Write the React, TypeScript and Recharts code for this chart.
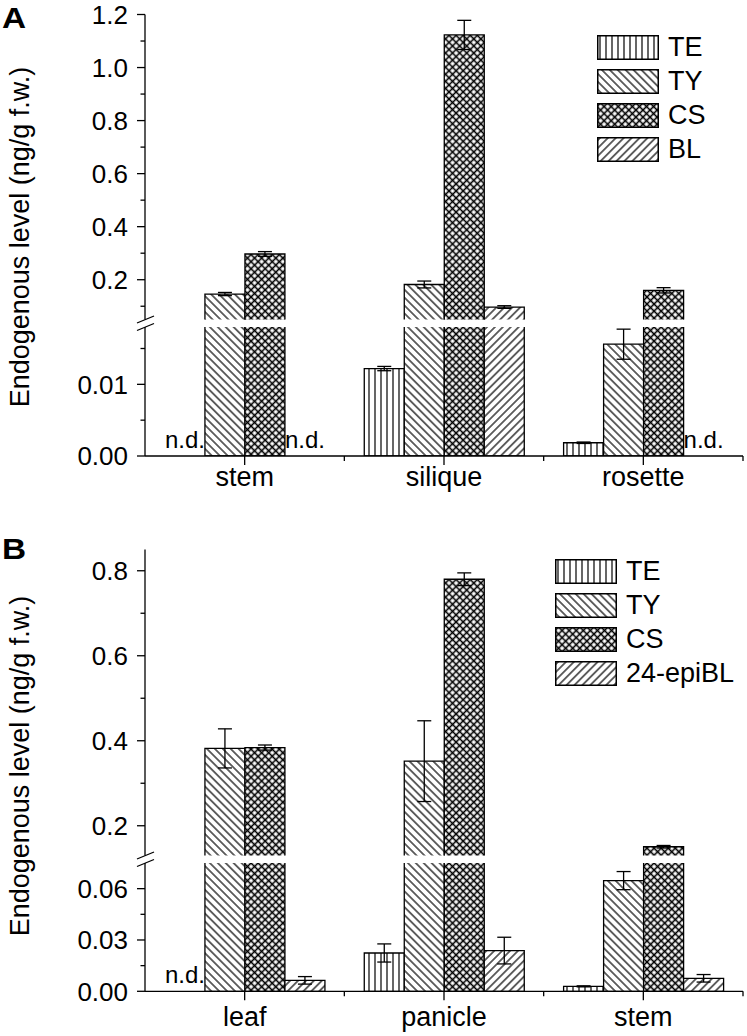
import React from 'react';
import { BarChart, Bar, XAxis, YAxis, ErrorBar, Legend, Rectangle } from 'recharts';

const FONT = "'Liberation Sans', Arial, Helvetica, sans-serif";

// ---- panel A (Arabidopsis) ----
const catsA = ['stem', 'silique', 'rosette'];
const namesA = ['TE', 'TY', 'CS', 'BL'];
const teA = [null, 0.0122, 0.00185];
const teErrA = [null, 0.0003, 0.0001];
const tyA = [0.146, 0.182, 0.0156];
const tyErrA = [0.006, 0.013, 0.0021];
const csA = [0.297, 1.123, 0.16];
const csErrA = [0.009, 0.055, 0.01];
const blA = [null, 0.097, null];
const blErrA = [null, 0.005, null];

// ---- panel B (rice) ----
const catsB = ['leaf', 'panicle', 'stem'];
const namesB = ['TE', 'TY', 'CS', '24-epiBL'];
const teB = [null, 0.0224, 0.0029];
const teErrB = [null, 0.0053, 0.0003];
const tyB = [0.382, 0.352, 0.0647];
const tyErrB = [0.046, 0.095, 0.0053];
const csB = [0.384, 0.78, 0.1506];
const csErrB = [0.006, 0.015, 0.003];
const eblB = [0.0064, 0.0238, 0.0076];
const eblErrB = [0.0022, 0.0078, 0.0022];

// ---- axis ticks (broken axes) ----
const aUpperMajor = [0.2, 0.4, 0.6, 0.8, 1.0, 1.2];
const aUpperMinor = [0.1, 0.3, 0.5, 0.7, 0.9, 1.1];
const aLowerMajor = [0, 0.01];
const aLowerMinor = [0.005, 0.015];
const bUpperMajor = [0.2, 0.4, 0.6, 0.8];
const bUpperMinor = [0.3, 0.5, 0.7];
const bLowerMajor = [0, 0.03, 0.06];
const bLowerMinor = [0.015, 0.045];

const FILLS = ['url(#pat-te)', 'url(#pat-ty)', 'url(#pat-cs)', 'url(#pat-bl)'];
const W = 747;
const PLOT_L = 145;
const PLOT_R = 743;
const BAND = (PLOT_R - PLOT_L) / 3;
const YLABEL = 'Endogenous level (ng/g f.w.)';

type Num = number | null;

function rowsFor(cats: string[], vals: Num[][], errs: Num[][], part: 'upper' | 'lower', lo: number, hi: number) {
  return cats.map((cat, i) => {
    const row: Record<string, any> = { cat };
    vals.forEach((series, k) => {
      const v = series[i];
      const e = errs[k][i];
      if (part === 'upper') {
        const show = v != null && v >= lo;
        row[`s${k}`] = show ? [0, v] : null;
        row[`e${k}`] = show ? e : null;
      } else {
        row[`s${k}`] = v ?? 0;
        row[`e${k}`] = v != null && v <= hi ? e : null;
        row[`nd${k}`] = v == null;
      }
    });
    return row;
  });
}

function YTick(props: any) {
  const { y, payload, major, decimals } = props;
  const v = payload.value;
  const isMajor = major.some((m: number) => Math.abs(m - v) < 1e-9);
  return (
    <g>
      <line x1={PLOT_L - (isMajor ? 8 : 4.5)} x2={PLOT_L} y1={y} y2={y} stroke="#000" strokeWidth={1.3} />
      {isMajor && (
        <text x={PLOT_L - 17} y={y} dy="0.36em" textAnchor="end" fontSize={26} fontFamily={FONT} fill="#000">
          {v.toFixed(decimals)}
        </text>
      )}
    </g>
  );
}

function XTick(props: any) {
  const { x, payload, axisY, labelGap } = props;
  return (
    <g>
      <line x1={x} x2={x} y1={axisY} y2={axisY + 9} stroke="#000" strokeWidth={1.3} />
      <line x1={x + BAND / 2} x2={x + BAND / 2} y1={axisY} y2={axisY + 5} stroke="#000" strokeWidth={1.3} />
      <text x={x} y={axisY + labelGap} textAnchor="middle" fontSize={27} fontFamily={FONT} fill="#000">
        {payload.value}
      </text>
    </g>
  );
}

const ndShape = (k: number) => (props: any) => {
  if (props.payload && props.payload[`nd${k}`]) {
    return (
      <text x={props.x + props.width / 2} y={props.y - 8} textAnchor="middle" fontSize={24} fontFamily={FONT} fill="#000">
        n.d.
      </text>
    );
  }
  return <Rectangle {...props} />;
};

function PatternLegend({ payload }: any) {
  return (
    <div style={{ fontFamily: FONT }}>
      {(payload || []).map((e: any, i: number) => (
        <div key={i} style={{ display: 'flex', alignItems: 'center', height: 34 }}>
          <svg width={62} height={25} style={{ display: 'block' }}>
            <rect x={0.75} y={0.75} width={60.5} height={23.5} fill={e.color || FILLS[i]} stroke="#000" strokeWidth={1.5} />
          </svg>
          <span style={{ marginLeft: 9, fontSize: 27, lineHeight: '27px', color: '#000' }}>{e.value}</span>
        </div>
      ))}
    </div>
  );
}

function Segment(p: {
  top: number; height: number; marginTop: number; xAxisH: number; labelGap?: number; rows: any[]; names: string[];
  domain: [number, number]; major: number[]; minor: number[]; decimals: number; lower: boolean;
  legend?: { left: number; top: number };
}) {
  const ticks = [...p.major, ...p.minor].sort((a, b) => a - b);
  const axisY = p.height - p.xAxisH;
  return (
    <div style={{ position: 'absolute', left: 0, top: p.top }}>
      <BarChart
        width={W}
        height={p.height}
        data={p.rows}
        margin={{ top: p.marginTop, right: W - PLOT_R, bottom: 0, left: 0 }}
        barCategoryGap="10%"
        barGap={0}
      >
        <XAxis
          dataKey="cat"
          hide={!p.lower}
          height={p.xAxisH}
          interval={0}
          tickLine={false}
          axisLine={{ stroke: '#000', strokeWidth: 1.3 }}
          tick={(tp: any) => <XTick {...tp} axisY={axisY} labelGap={p.labelGap ?? 30} />}
        />
        <YAxis
          type="number"
          width={PLOT_L}
          domain={p.domain}
          allowDataOverflow
          ticks={ticks}
          interval={0}
          tickLine={false}
          axisLine={{ stroke: '#000', strokeWidth: 1.3 }}
          tick={(tp: any) => <YTick {...tp} major={p.major} decimals={p.decimals} />}
        />
        {p.names.map((n, k) => (
          <Bar
            key={n}
            dataKey={`s${k}`}
            name={n}
            fill={FILLS[k]}
            stroke="#000"
            strokeWidth={1.3}
            isAnimationActive={false}
            shape={p.lower ? ndShape(k) : undefined}
          >
            <ErrorBar dataKey={`e${k}`} width={7} stroke="#000" strokeWidth={1.3} direction="y" />
          </Bar>
        ))}
        {p.legend && (
          <Legend
            layout="vertical"
            align="center"
            verticalAlign="middle"
            itemSorter="dataKey"
            content={<PatternLegend />}
            wrapperStyle={{ position: 'absolute', left: p.legend.left, top: p.legend.top, width: 'auto', height: 'auto' }}
          />
        )}
      </BarChart>
    </div>
  );
}

function BreakMarks({ yUp, yLow }: { yUp: number; yLow: number }) {
  return (
    <g stroke="#000" strokeWidth={1.3}>
      <line x1={PLOT_L - 8} y1={yUp + 3.5} x2={PLOT_L + 9} y2={yUp - 3.5} />
      <line x1={PLOT_L - 8} y1={yLow + 3.5} x2={PLOT_L + 9} y2={yLow - 3.5} />
    </g>
  );
}

export default function App() {
  const valsA = [teA, tyA, csA, blA];
  const errsA = [teErrA, tyErrA, csErrA, blErrA];
  const valsB = [teB, tyB, csB, eblB];
  const errsB = [teErrB, tyErrB, csErrB, eblErrB];

  const aUp: [number, number] = [0.05, 1.2];
  const aLo: [number, number] = [0, 0.018];
  const bUp: [number, number] = [0.13, 0.85];
  const bLo: [number, number] = [0, 0.075];

  return (
    <div style={{ position: 'absolute', left: 0, top: 0, width: W, height: 1036, background: '#fff', fontFamily: FONT }}>
      <svg width={0} height={0} style={{ position: 'absolute' }}>
        <defs>
          <pattern id="pat-te" patternUnits="userSpaceOnUse" width={6} height={6}>
            <rect width={6} height={6} fill="#fff" />
            <line x1={3} y1={0} x2={3} y2={6} stroke="#000" strokeWidth={1.2} />
          </pattern>
          <pattern id="pat-ty" patternUnits="userSpaceOnUse" width={5.6} height={5.6} patternTransform="rotate(-45)">
            <rect width={5.6} height={5.6} fill="#fff" />
            <line x1={2.8} y1={0} x2={2.8} y2={5.6} stroke="#000" strokeWidth={1.2} />
          </pattern>
          <pattern id="pat-cs" patternUnits="userSpaceOnUse" width={5} height={5} patternTransform="rotate(45)">
            <rect width={5} height={5} fill="#fff" />
            <line x1={2.5} y1={0} x2={2.5} y2={5} stroke="#000" strokeWidth={1.6} />
            <line x1={0} y1={2.5} x2={5} y2={2.5} stroke="#000" strokeWidth={1.6} />
          </pattern>
          <pattern id="pat-bl" patternUnits="userSpaceOnUse" width={5.6} height={5.6} patternTransform="rotate(45)">
            <rect width={5.6} height={5.6} fill="#fff" />
            <line x1={2.8} y1={0} x2={2.8} y2={5.6} stroke="#000" strokeWidth={1.2} />
          </pattern>
        </defs>
      </svg>

      {/* panel A */}
      <Segment
        top={0} height={319.5} marginTop={14.5} xAxisH={0}
        rows={rowsFor(catsA, valsA, errsA, 'upper', aUp[0], aUp[1])}
        names={namesA} domain={aUp} major={aUpperMajor} minor={aUpperMinor} decimals={1} lower={false}
        legend={{ left: 597, top: 30 }}
      />
      <Segment
        top={327} height={181} marginTop={0} xAxisH={52} labelGap={30}
        rows={rowsFor(catsA, valsA, errsA, 'lower', aLo[0], aLo[1])}
        names={namesA} domain={aLo} major={aLowerMajor} minor={aLowerMinor} decimals={2} lower
      />

      {/* panel B */}
      <Segment
        top={530} height={325.5} marginTop={19.5} xAxisH={0}
        rows={rowsFor(catsB, valsB, errsB, 'upper', bUp[0], bUp[1])}
        names={namesB} domain={bUp} major={bUpperMajor} minor={bUpperMinor} decimals={1} lower={false}
        legend={{ left: 555, top: 24 }}
      />
      <Segment
        top={863} height={173} marginTop={0} xAxisH={44.7} labelGap={35}
        rows={rowsFor(catsB, valsB, errsB, 'lower', bLo[0], bLo[1])}
        names={namesB} domain={bLo} major={bLowerMajor} minor={bLowerMinor} decimals={2} lower
      />

      <svg width={W} height={1036} style={{ position: 'absolute', left: 0, top: 0, pointerEvents: 'none' }}>
        <text transform="translate(2,28) scale(1.15,1)" fontSize={29} fontWeight="bold" fontFamily={FONT} fill="#000">A</text>
        <text transform="translate(2,559) scale(1.15,1)" fontSize={29} fontWeight="bold" fontFamily={FONT} fill="#000">B</text>
        <text transform="translate(20,237) rotate(-90)" textAnchor="middle" dominantBaseline="central" fontSize={27} fontFamily={FONT} fill="#000">
          {YLABEL}
        </text>
        <text transform="translate(20,766) rotate(-90)" textAnchor="middle" dominantBaseline="central" fontSize={27} fontFamily={FONT} fill="#000">
          {YLABEL}
        </text>
        <BreakMarks yUp={319.5} yLow={327} />
        <BreakMarks yUp={855.5} yLow={863} />
      </svg>
    </div>
  );
}
